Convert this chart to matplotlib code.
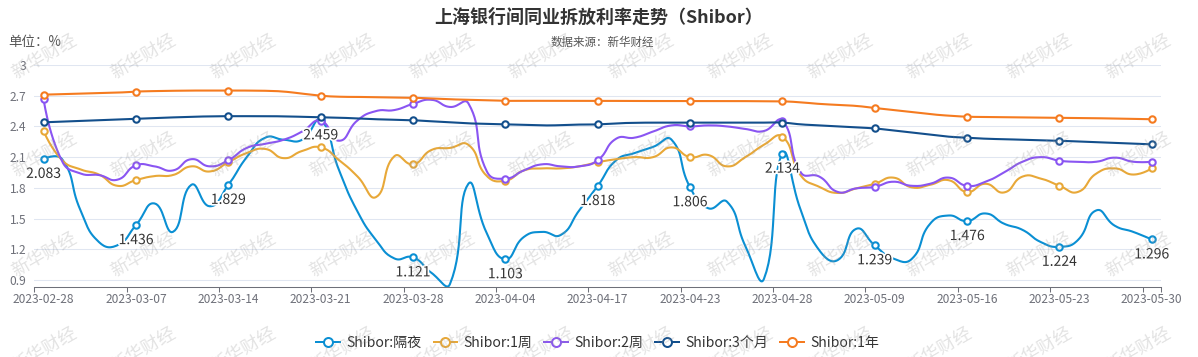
"""Shibor rate trend chart (line chart with smoothed curves)."""

import numpy as np
from matplotlib import pyplot as plt
from matplotlib import patheffects
from matplotlib.lines import Line2D

plt.rcParams['font.family'] = ['Noto Sans CJK SC', 'DejaVu Sans']

dates = ['2023-02-28', '2023-03-01', '2023-03-02', '2023-03-03', '2023-03-06',
         '2023-03-07', '2023-03-08', '2023-03-09', '2023-03-10', '2023-03-13',
         '2023-03-14', '2023-03-15', '2023-03-16', '2023-03-17', '2023-03-20',
         '2023-03-21', '2023-03-22', '2023-03-23', '2023-03-24', '2023-03-27',
         '2023-03-28', '2023-03-29', '2023-03-30', '2023-03-31', '2023-04-03',
         '2023-04-04', '2023-04-10', '2023-04-12', '2023-04-13', '2023-04-14',
         '2023-04-17', '2023-04-18', '2023-04-19', '2023-04-20', '2023-04-21',
         '2023-04-23', '2023-04-24', '2023-04-25', '2023-04-26', '2023-04-27',
         '2023-04-28', '2023-05-04', '2023-05-05', '2023-05-06', '2023-05-08',
         '2023-05-09', '2023-05-10', '2023-05-11', '2023-05-12', '2023-05-15',
         '2023-05-16', '2023-05-17', '2023-05-18', '2023-05-19', '2023-05-22',
         '2023-05-23', '2023-05-24', '2023-05-25', '2023-05-26', '2023-05-29',
         '2023-05-30']

overnight = [2.083, 2.08, 1.58, 1.27, 1.24, 1.436, 1.648, 1.37, 1.83, 1.62,
             1.829, 2.10, 2.29, 2.27, 2.27, 2.459, 1.97, 1.567, 1.29, 1.11,
             1.121, 0.97, 0.86, 1.84, 1.355, 1.103, 1.32, 1.37, 1.34, 1.58,
             1.818, 2.07, 2.14, 2.20, 2.27, 1.806, 1.60, 1.665, 1.23, 0.91,
             2.134, 1.58, 1.19, 1.095, 1.40, 1.239, 1.11, 1.105, 1.45, 1.53,
             1.476, 1.55, 1.45, 1.39, 1.27, 1.224, 1.29, 1.58, 1.43, 1.37,
             1.296]
week1 = [2.355, 2.07, 1.98, 1.93, 1.82, 1.876, 1.915, 1.925, 2.01, 1.96,
         2.05, 2.14, 2.18, 2.09, 2.16, 2.195, 2.07, 1.91, 1.71, 2.11,
         2.03, 2.17, 2.19, 2.22, 1.915, 1.87, 1.97, 1.99, 1.99, 2.01,
         2.05, 2.08, 2.10, 2.10, 2.195, 2.10, 2.12, 2.01, 2.10, 2.22,
         2.30, 1.92, 1.81, 1.75, 1.795, 1.84, 1.90, 1.805, 1.83, 1.875,
         1.76, 1.84, 1.755, 1.91, 1.89, 1.82, 1.76, 1.94, 1.99, 1.93,
         1.99]
week2 = [2.665, 2.06, 1.94, 1.925, 1.88, 2.02, 2.01, 1.97, 2.08, 2.01,
         2.07, 2.19, 2.23, 2.27, 2.35, 2.456, 2.26, 2.46, 2.55, 2.56,
         2.62, 2.66, 2.59, 2.625, 1.96, 1.89, 1.97, 2.03, 2.01, 2.01,
         2.07, 2.28, 2.29, 2.35, 2.41, 2.40, 2.41, 2.40, 2.375, 2.355,
         2.456, 1.95, 1.91, 1.76, 1.795, 1.81, 1.86, 1.82, 1.84, 1.90,
         1.82, 1.86, 1.95, 2.055, 2.10, 2.065, 2.055, 2.055, 2.095, 2.055,
         2.055]
month3 = [2.44, 2.447, 2.454, 2.461, 2.468, 2.475, 2.482, 2.488, 2.494, 2.498,
          2.50, 2.50, 2.50, 2.498, 2.494, 2.49, 2.485, 2.478, 2.47, 2.465,
          2.46, 2.45, 2.44, 2.43, 2.425, 2.42, 2.415, 2.41, 2.412, 2.418,
          2.42, 2.43, 2.435, 2.437, 2.437, 2.437, 2.437, 2.437, 2.437, 2.437,
          2.437, 2.42, 2.41, 2.40, 2.39, 2.38, 2.36, 2.34, 2.32, 2.30,
          2.29, 2.28, 2.275, 2.27, 2.265, 2.26, 2.253, 2.246, 2.239, 2.232,
          2.225]
year1 = [2.71, 2.715, 2.72, 2.725, 2.73, 2.74, 2.745, 2.748, 2.75, 2.75,
         2.75, 2.75, 2.748, 2.74, 2.72, 2.70, 2.69, 2.688, 2.685, 2.682,
         2.68, 2.672, 2.665, 2.66, 2.655, 2.65, 2.65, 2.65, 2.65, 2.65,
         2.65, 2.649, 2.648, 2.648, 2.648, 2.648, 2.648, 2.648, 2.647, 2.646,
         2.645, 2.635, 2.62, 2.61, 2.60, 2.58, 2.56, 2.54, 2.52, 2.505,
         2.495, 2.492, 2.49, 2.488, 2.487, 2.485, 2.482, 2.48, 2.477, 2.474,
         2.47]

series_names = ['Shibor:隔夜', 'Shibor:1周', 'Shibor:2周', 'Shibor:3个月', 'Shibor:1年']
series_colors = ['#0a8fd3', '#e8a838', '#8a55f2', '#134f8c', '#f57b20']
y_ticks = [0.9, 1.2, 1.5, 1.8, 2.1, 2.4, 2.7, 3]

PX = 100 / 72  # pixels per point at dpi 100


def smooth_curve(x, y, sx, sy, smooth=0.5, steps=16):
    """Bezier smoothing like echarts 'smooth: true', computed in pixel space."""
    px = np.asarray(x, float) * sx
    py = np.asarray(y, float) * sy
    n = len(px)
    cp_prev = np.column_stack([px, py])
    cp_next = np.column_stack([px, py])
    for i in range(1, n - 1):
        vx = px[i + 1] - px[i - 1]
        vy = py[i + 1] - py[i - 1]
        d0 = np.hypot(px[i] - px[i - 1], py[i] - py[i - 1])
        d1 = np.hypot(px[i + 1] - px[i], py[i + 1] - py[i])
        r = d1 / (d0 + d1) if d0 + d1 > 0 else 0.5
        cp_next[i] = [px[i] + vx * smooth * r, py[i] + vy * smooth * r]
        cp_prev[i] = [px[i] - vx * smooth * (1 - r), py[i] - vy * smooth * (1 - r)]
    t = np.linspace(0, 1, steps)[:, None]
    out = [np.array([[px[0], py[0]]])]
    for i in range(n - 1):
        p0 = np.array([px[i], py[i]])
        p3 = np.array([px[i + 1], py[i + 1]])
        c1, c2 = cp_next[i], cp_prev[i + 1]
        seg = ((1 - t) ** 3) * p0 + 3 * ((1 - t) ** 2) * t * c1 \
            + 3 * (1 - t) * t ** 2 * c2 + t ** 3 * p3
        out.append(seg[1:])
    pts = np.vstack(out)
    return pts[:, 0] / sx, pts[:, 1] / sy


def main():
    fig = plt.figure(figsize=(11.98, 3.57), dpi=100)
    ax = fig.add_axes([0.0287, 0.1947, 0.9404, 0.6233])

    x = np.arange(len(dates))
    ax.set_xlim(-0.5, len(dates) - 0.5)
    ax.set_ylim(0.827, 3.0)
    # pixel scale of the axes, used by the smoothing
    sx = 1126.6 / len(dates)
    sy = 222.5 / (3.0 - 0.827)

    all_series = [overnight, week1, week2, month3, year1]
    mark_idx = x[::5]
    for k, (vals, name, color) in enumerate(zip(all_series, series_names, series_colors)):
        vals = np.array(vals)
        xs, ys = smooth_curve(x, vals, sx, sy)
        ax.plot(xs, ys, color=color, lw=1.5, zorder=3 + k, solid_capstyle='round')
        ax.plot(mark_idx, vals[mark_idx], 'o', ms=4.6, mfc='white', mec=color,
                mew=1.5, zorder=3 + k, clip_on=False)

    # value labels under the overnight markers
    ov = np.array(overnight)
    for i in mark_idx:
        ax.annotate(f'{ov[i]:.3f}', (i, ov[i]), xytext=(0, -15 / PX),
                    textcoords='offset points', ha='center', va='center',
                    fontsize=14 / PX, color='#333333', zorder=10,
                    path_effects=[patheffects.withStroke(linewidth=2.5, foreground='white')])

    # axes styling
    ax.set_yticks(y_ticks)
    ax.set_yticklabels([f'{v:g}' for v in y_ticks])
    ax.grid(axis='y', color='#e0e6f1', lw=0.75, zorder=0)
    for s in ['top', 'right', 'left']:
        ax.spines[s].set_visible(False)
    ax.spines['bottom'].set_color('#6e7079')
    ax.spines['bottom'].set_linewidth(0.75)
    ax.set_xticks(mark_idx)
    ax.set_xticklabels([dates[i] for i in mark_idx])
    ax.set_xticks(list(mark_idx - 0.5) + [len(dates) - 0.5], minor=True)
    ax.tick_params(axis='x', which='major', length=0, pad=6 / PX,
                   labelsize=12 / PX, labelcolor='#6e7079')
    ax.tick_params(axis='x', which='minor', length=5 / PX, width=0.75, color='#6e7079')
    ax.tick_params(axis='y', length=0, pad=8 / PX, labelsize=12 / PX, labelcolor='#6e7079')

    # titles
    fig.text(0.5, 1 - 18 / 357, '上海银行间同业拆放利率走势（Shibor）', ha='center',
             va='center', fontsize=18 / PX, fontweight='bold', color='#333333')
    fig.text(602 / 1198, 1 - 42 / 357, '数据来源：新华财经', ha='center', va='center',
             fontsize=11.5 / PX, color='#555555')
    fig.text(8 / 1198, 1 - 42 / 357, '单位：%', ha='left', va='center',
             fontsize=13.5 / PX, color='#555555')

    # legend
    handles = [Line2D([], [], color=c, lw=2 / PX, marker='o', ms=9 / PX,
                      mfc='white', mec=c, mew=2 / PX) for c in series_colors]
    fig.legend(handles, series_names, loc='center', bbox_to_anchor=(0.499, 14 / 357),
               ncol=5, frameon=False, fontsize=14 / PX, handlelength=1.7,
               handletextpad=0.45, columnspacing=0.85, labelcolor='#333333')

    # watermark, the bottom row runs off the edge as in the source
    for wy in [57, 155, 255, 350]:
        for wx in np.arange(44, 1198, 99.5):
            fig.text(wx / 1198, 1 - wy / 357, '新华财经', ha='center', va='center',
                     rotation=30, fontsize=18 / PX, color='#999999', alpha=0.28,
                     zorder=20)

    fig.savefig('out.png', dpi=100)


if __name__ == '__main__':
    main()
